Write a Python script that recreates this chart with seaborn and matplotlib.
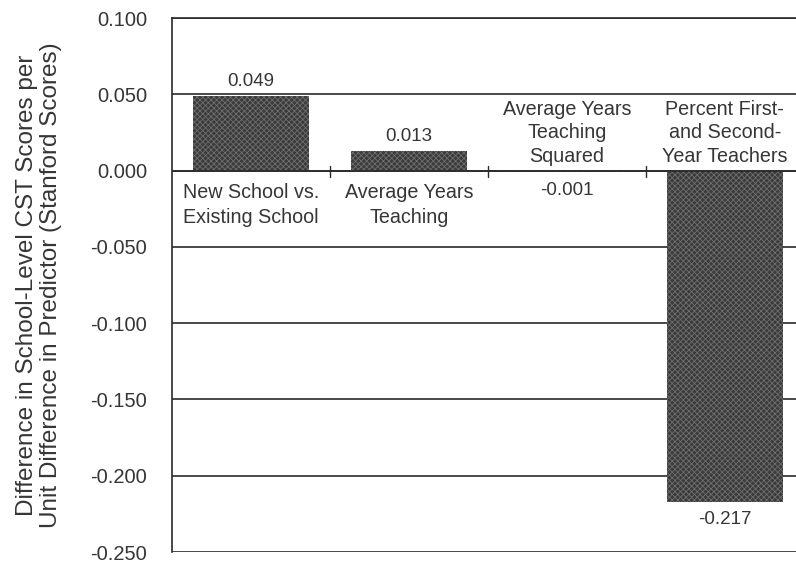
import pandas as pd
import seaborn as sns
import matplotlib.pyplot as plt
import numpy as np

# data
predictors = ["New School vs.\nExisting School", "Average Years\nTeaching",
              "Average Years\nTeaching\nSquared",
              "Percent First-\nand Second-\nYear Teachers"]
effects = [0.049, 0.013, -0.001, -0.217]
value_labels = ["0.049", "0.013", "-0.001", "-0.217"]
y_ticks = [0.100, 0.050, 0.000, -0.050, -0.100, -0.150, -0.200, -0.250]

df = pd.DataFrame({"predictor": predictors, "effect": effects})

sns.set_theme(style="white")
plt.rcParams['font.family'] = ['Liberation Sans', 'DejaVu Sans']
plt.rcParams['hatch.color'] = '#6e6e6e'
plt.rcParams['hatch.linewidth'] = 0.6
ink = '#2a2a2a'
txt = '#363636'

fig = plt.figure(figsize=(7.96, 5.63), dpi=100)
ax = fig.add_axes([0.216, 0.0195, 0.784, 0.9485])

sns.barplot(data=df, x="predictor", y="effect", color='#3b3b3b',
            width=0.73, saturation=1, ax=ax)
for p in ax.patches:
    p.set_hatch('xxxxxx')
    p.set_edgecolor('#6e6e6e')
    p.set_linewidth(0)

ax.set_xlim(-0.5, 3.45)
ax.set_ylim(-0.25, 0.10)
ax.set_yticks(y_ticks)
ax.set_yticklabels([f"{t:.3f}" for t in y_ticks], color=txt, fontsize=14.5)
ax.yaxis.grid(True, color=ink, lw=1.2)
ax.set_axisbelow(True)
ax.tick_params(axis='y', direction='out', length=14, width=1.1, color=ink, pad=4)
ax.tick_params(axis='x', bottom=False, labelbottom=False)
ax.set_xlabel("")
ax.set_ylabel("Difference in School-Level CST Scores per\n"
              "Unit Difference in Predictor (Stanford Scores)",
              fontsize=17.5, color=txt, linespacing=1.1)
ax.yaxis.set_label_coords(-0.176, 0.5)

for side in ['right', 'bottom']:
    ax.spines[side].set_visible(False)
for side in ['left', 'top']:
    ax.spines[side].set_color(ink)
    ax.spines[side].set_linewidth(1.2)

# zero line with small separator ticks between categories
ax.axhline(0, color=ink, lw=1.2, zorder=3)
for xs in [0.5, 1.5, 2.5]:
    ax.plot([xs, xs], [-0.004, 0.003], color=ink, lw=1, zorder=3)

# value and category labels
for i, (v, lab, name) in enumerate(zip(effects, value_labels, predictors)):
    if v > 0:
        ax.annotate(lab, (i, v), xytext=(0, 4), textcoords='offset points',
                    ha='center', va='bottom', fontsize=13.5, color=txt)
        ax.annotate(name, (i, 0), xytext=(0, -9), textcoords='offset points',
                    ha='center', va='top', fontsize=14.2, color=txt,
                    linespacing=1.4)
    else:
        ax.annotate(lab, (i, v), xytext=(0, -7), textcoords='offset points',
                    ha='center', va='top', fontsize=13.5, color=txt)
        ax.annotate(name, (i, 0), xytext=(0, 3.5), textcoords='offset points',
                    ha='center', va='bottom', fontsize=14.2, color=txt,
                    linespacing=1.29)

plt.savefig("out.png", dpi=100)
plt.close()
